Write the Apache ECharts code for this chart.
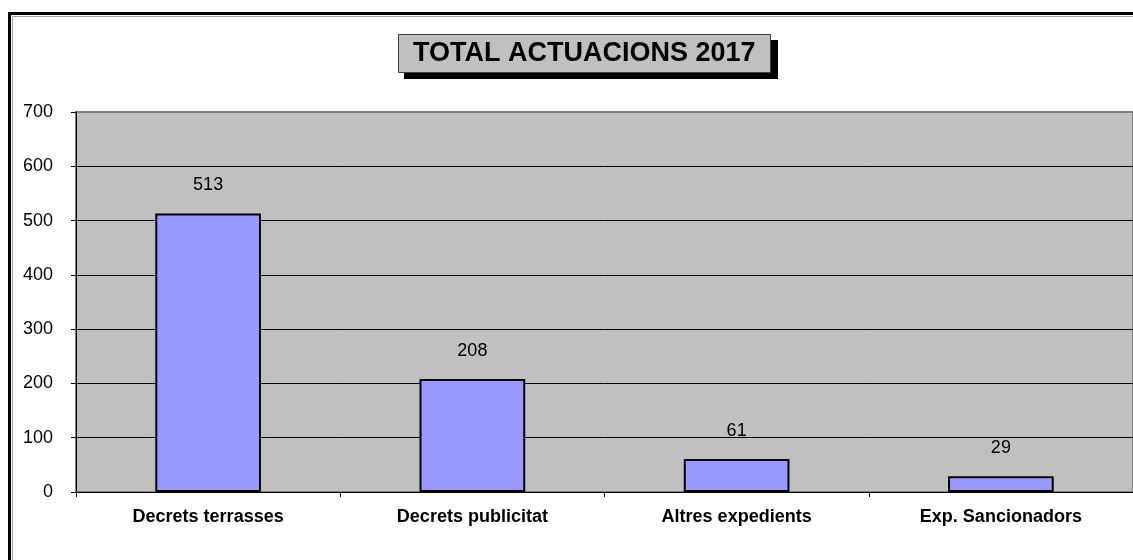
<!DOCTYPE html>
<html><head><meta charset="utf-8">
<script src="https://cdn.jsdelivr.net/npm/echarts@6/dist/echarts.min.js"></script>
<style>html,body{margin:0;padding:0;background:#fff}#c{width:1133px;height:560px}</style>
</head><body><div id="c"></div>
<script>
const titleText = 'TOTAL ACTUACIONS 2017';
const categories = ['Decrets terrasses', 'Decrets publicitat', 'Altres expedients', 'Exp. Sancionadors'];
const values = [513, 208, 61, 29];
const yTicks = [0, 100, 200, 300, 400, 500, 600, 700];

const FONT = 'Liberation Sans, Arial, sans-serif';
const chart = echarts.init(document.getElementById('c'), null, {renderer: 'canvas'});
chart.setOption({
  backgroundColor: '#ffffff',
  animation: false,
  title: {
    text: titleText,
    left: 398, top: 34,
    padding: [6, 15, 5, 15],
    backgroundColor: '#c0c0c0',
    borderColor: '#404040', borderWidth: 1,
    textStyle: {fontFamily: FONT, fontSize: 27, fontWeight: 'bold', color: '#000', lineHeight: 28},
    z: 10
  },
  grid: {
    left: 76, top: 112, width: 1060, height: 380,
    show: true, backgroundColor: '#c0c0c0', borderColor: '#808080', borderWidth: 2,
    containLabel: false
  },
  xAxis: {
    type: 'category', data: categories,
    axisLine: {lineStyle: {color: '#000', width: 1}},
    axisTick: {show: true, alignWithLabel: false, length: 5, lineStyle: {color: '#000'}},
    axisLabel: {margin: 16, fontFamily: FONT, fontSize: 18, fontWeight: 'bold', color: '#000'}
  },
  yAxis: {
    type: 'value', min: yTicks[0], max: yTicks[yTicks.length - 1], interval: 100,
    axisLine: {show: true, lineStyle: {color: '#000', width: 1}},
    axisTick: {show: true, length: 5, lineStyle: {color: '#000'}},
    axisLabel: {margin: 23, fontFamily: FONT, fontSize: 18, color: '#000'},
    splitLine: {show: true, showMaxLine: false, lineStyle: {color: '#000', width: 1}}
  },
  series: [{
    type: 'bar', data: values, barWidth: '40%',
    itemStyle: {color: '#9999ff', borderColor: '#000', borderWidth: 2},
    label: {show: true, position: 'top', distance: 19, fontFamily: FONT, fontSize: 18, color: '#000'}
  }],
  graphic: [
    {type: 'rect', id: 'tshadow', shape: {x: 404, y: 40, width: 374, height: 39}, style: {fill: '#000'}, z: 5},
    {type: 'rect', shape: {x: 9.5, y: 13.5, width: 1200, height: 600}, style: {fill: 'none', stroke: '#000', lineWidth: 3}, z: 100},
    {type: 'polyline', shape: {points: [[12.5, 600], [12.5, 16.5], [1200, 16.5]]}, style: {fill: 'none', stroke: '#a0a0a0', lineWidth: 1}, z: 100}
  ]
});
</script></body></html>
